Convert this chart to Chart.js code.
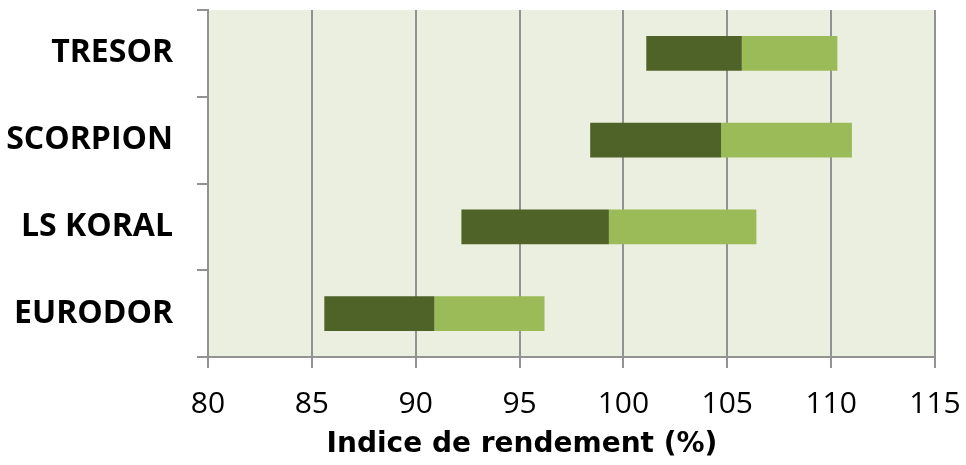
<!DOCTYPE html>
<html>
<head>
<meta charset="utf-8">
<script src="https://cdn.jsdelivr.net/npm/chart.js@4.4.0/dist/chart.umd.min.js"></script>
<style>
  html, body { margin: 0; padding: 0; background: #ffffff; }
  #wrap { position: relative; width: 966px; height: 465px; }
</style>
</head>
<body>
<div id="wrap"><canvas id="c" width="966" height="465"></canvas></div>
<script>
const categories = ['TRESOR', 'SCORPION', 'LS KORAL', 'EURODOR'];
const minValues = [101.1, 98.4, 92.2, 85.6];
const midValues = [105.7, 104.7, 99.3, 90.9];
const maxValues = [110.3, 111.0, 106.4, 96.2];
const xMin = 80;
const xMax = 115;
const xStep = 5;
const axisTitle = 'Indice de rendement (%)';

const lowerRange = categories.map((c, i) => [minValues[i], midValues[i]]);
const upperRange = categories.map((c, i) => [midValues[i], maxValues[i]]);

const bgPlugin = {
  id: 'bgPlugin',
  beforeDraw(chart) {
    const a = chart.chartArea, ctx = chart.ctx;
    ctx.save();
    ctx.fillStyle = '#EBEFDF';
    ctx.fillRect(a.left, a.top, a.right - a.left, a.bottom - a.top);
    ctx.restore();
  },
  afterDraw(chart) {
    const ctx = chart.ctx;
    ctx.save();
    ctx.font = 'bold 28px "DejaVu Sans"';
    ctx.fillStyle = '#000000';
    ctx.textAlign = 'center';
    ctx.textBaseline = 'middle';
    ctx.fillText(axisTitle, 522, 445);
    ctx.restore();
  }
};

new Chart(document.getElementById('c'), {
  type: 'bar',
  data: {
    labels: categories,
    datasets: [
      { label: 'min', data: lowerRange, backgroundColor: '#4F6228', grouped: false, barPercentage: 0.4, categoryPercentage: 1 },
      { label: 'max', data: upperRange, backgroundColor: '#9BBB59', grouped: false, barPercentage: 0.4, categoryPercentage: 1 }
    ]
  },
  options: {
    indexAxis: 'y',
    responsive: false,
    animation: false,
    layout: { padding: { top: 10, right: 31, left: 0, bottom: 0 } },
    plugins: { legend: { display: false }, tooltip: { enabled: false }, title: { display: false } },
    scales: {
      x: {
        min: xMin, max: xMax,
        ticks: { stepSize: xStep, color: '#000', font: { family: '"Open Sans"', size: 30 }, padding: 18, maxRotation: 0 },
        grid: { color: '#929292', lineWidth: 2, tickLength: 11, drawTicks: true },
        border: { color: '#929292', width: 2 },
        afterFit(scale) { scale.height = 108; scale.paddingLeft = 0; scale.paddingRight = 0; }
      },
      y: {
        offset: true,
        ticks: { color: '#000', font: { family: '"Open Sans"', size: 32, weight: 'bold' }, padding: 24 },
        grid: { offset: true, drawOnChartArea: false, color: '#929292', lineWidth: 2, tickLength: 11 },
        border: { color: '#929292', width: 2 },
        afterFit(scale) { scale.width = 208; scale.paddingTop = 0; scale.paddingBottom = 0; }
      }
    }
  },
  plugins: [bgPlugin]
});
</script>
</body>
</html>
